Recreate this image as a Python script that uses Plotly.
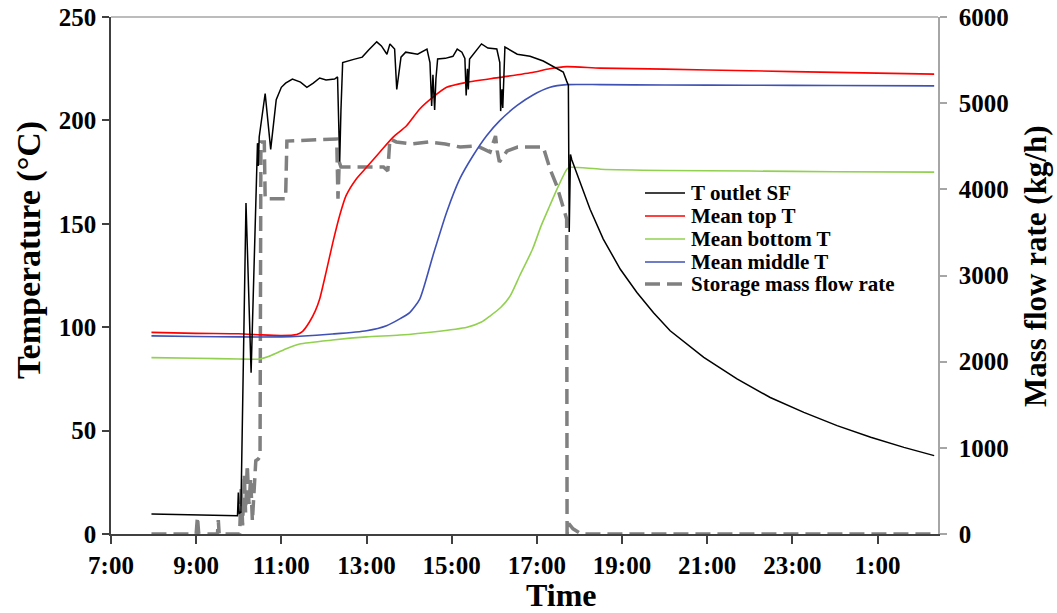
import pandas as pd
import plotly.graph_objects as go

# ---------------- data (hours since 0:00 of day 1; >24 = next day) ----------------
outlet_h = [7.95, 8.5, 9.0, 9.5, 9.97, 9.99, 10.01, 10.05, 10.17, 10.29, 10.44, 10.46, 10.48,
            10.62, 10.75, 10.88, 11.0, 11.1, 11.26, 11.45, 11.6, 11.75, 11.9, 12.05, 12.25,
            12.32, 12.35, 12.37, 12.40, 12.44, 12.7, 12.9, 13.05, 13.24, 13.35, 13.48, 13.55,
            13.66, 13.71, 13.81, 13.92, 14.2, 14.42, 14.49, 14.53, 14.56, 14.6, 14.63, 14.67,
            14.85, 15.03, 15.13, 15.24, 15.31, 15.34, 15.37, 15.39, 15.42, 15.7, 15.85, 16.06,
            16.13, 16.15, 16.18, 16.2, 16.25, 16.54, 16.84, 17.15, 17.38, 17.62, 17.70, 17.74,
            17.76, 17.79, 17.82, 18.02, 18.25, 18.56, 18.96, 19.35, 19.74, 20.13, 20.92, 21.7,
            22.48, 23.27, 24.05, 24.84, 25.62, 26.33]
outlet_T = [9.7, 9.4, 9.0, 8.8, 8.8, 20, 10, 10.5, 160, 78, 189, 178, 192,
            213, 186, 210, 216, 218, 220, 218.5, 216, 218, 220.5, 219.5, 220,
            221, 200, 180, 205, 228, 229.5, 230.6, 234, 238, 236, 232, 237,
            234.5, 215, 230.6, 233, 232, 234.5, 228, 207, 222, 205, 220, 229.7,
            230, 231, 234.5, 233, 230, 212, 225, 215, 229.7, 237, 235, 234.5,
            228, 204.5, 215, 206, 235.5, 232, 231, 228.7, 226.3, 223.4, 219, 217,
            146, 183.5, 181, 170, 157, 142.6, 128, 116.8, 107, 98.3, 85.4, 75,
            66, 58.8, 52.4, 46.8, 41.9, 37.9]

top_h = [7.95, 9.0, 10.0, 10.5, 11.0, 11.36, 11.5, 11.66, 11.8, 11.9, 12.05, 12.21, 12.37,
         12.52, 12.76, 13.0, 13.31, 13.62, 13.94, 14.25, 14.56, 14.88, 15.35, 16.13, 16.92,
         17.3, 17.70, 18.49, 20.0, 22.0, 24.0, 26.33]
top_T = [97.5, 97.0, 96.8, 96.3, 96.0, 96.5, 98, 102.5, 108, 113.6, 126.5, 141, 154,
         163.6, 171.7, 177.3, 184.6, 191.8, 197.4, 205.5, 211.2, 216, 218.4, 220.8, 223.3,
         225, 226, 225.3, 224.8, 224, 223.2, 222.4]

mid_h = [7.95, 9.0, 10.0, 11.0, 11.43, 12.2, 13.0, 13.47, 13.78, 14.02, 14.25, 14.56, 14.88,
         15.19, 15.5, 15.82, 16.13, 16.53, 16.92, 17.31, 17.70, 18.49, 20.0, 22.0, 24.0, 26.33]
mid_T = [95.8, 95.5, 95.3, 95.3, 95.6, 96.7, 98.3, 100.7, 104, 107.2, 113.6, 134.6, 155.5,
         171.7, 182.9, 192.6, 199.9, 207.1, 212.4, 216, 217.3, 217.3, 217.1, 217.0, 216.9, 216.7]

bot_h = [7.95, 9.0, 10.0, 10.49, 10.7, 10.89, 11.1, 11.43, 12.2, 13.0, 13.78, 14.56, 15.36,
         15.7, 15.9, 16.15, 16.37, 16.6, 16.9, 17.1, 17.3, 17.5, 17.71, 17.78, 18.5, 20.0,
         22.0, 24.0, 26.33]
bot_T = [85.3, 85.0, 84.6, 84.6, 85.8, 87.5, 89.5, 91.9, 93.8, 95.3, 96.2, 97.7, 100,
         102.5, 105.4, 109.5, 115, 125, 137.8, 149, 158.6, 168, 176.5, 177.3, 176.4, 175.8,
         175.5, 175.2, 175.0]

flow_h = [7.95, 9.0, 9.03, 9.06, 9.5, 9.52, 9.54, 10.02, 10.06, 10.09, 10.13, 10.16, 10.2,
          10.24, 10.28, 10.32, 10.36, 10.4, 10.46, 10.5, 10.52, 10.6, 10.62, 10.98, 11.1,
          11.13, 12.3, 12.33, 12.36, 12.4, 13.4, 13.5, 13.55, 13.7, 14.07, 14.45, 14.85,
          15.2, 15.6, 15.9, 16.03, 16.07, 16.12, 16.3, 16.55, 17.15, 17.25, 17.31, 17.47,
          17.54, 17.70, 17.71, 17.75, 17.85, 18.05, 26.33]
flow_F = [0, 0, 200, 0, 0, 160, 0, 0, 550, 100, 700, 250, 800,
          350, 650, 150, 500, 850, 870, 900, 4550, 4550, 3890, 3890, 3890,
          4560, 4584, 3890, 4317, 4259, 4259, 4213, 4584, 4550, 4526, 4549, 4526,
          4491, 4503, 4433, 4619, 4445, 4317, 4445, 4491, 4491, 4317, 4236, 4039,
          3923, 3656, 0, 120, 60, 0, 0]

series_names = ["T outlet SF", "Mean top T", "Mean bottom T", "Mean middle T",
                "Storage mass flow rate"]

x_ticks_start_h = 7.0
x_range_h = [7.0, 26.42]
temp_range = [0, 250]
flow_range = [0, 6000]

# ---------------- helpers ----------------
day0 = pd.Timestamp("2020-06-01")


def to_time(hours):
    return [day0 + pd.Timedelta(hours=h) for h in hours]


FONT = "Liberation Serif"
C_BLACK = "#000000"
C_RED = "#ff0000"
C_GREEN = "#92d050"
C_BLUE = "#3f51b5"
C_GRAY = "#808080"
DASH = "15px,7px"

fig = go.Figure()

# flow on the base axis (drawn underneath), temperatures on the overlay axis
fig.add_trace(go.Scatter(x=to_time(flow_h), y=flow_F, name=series_names[4], mode="lines",
                         line=dict(color=C_GRAY, width=3.5, dash=DASH), yaxis="y"))
fig.add_trace(go.Scatter(x=to_time(top_h), y=top_T, name=series_names[1], mode="lines",
                         line=dict(color=C_RED, width=1.6, shape="spline", smoothing=0.6),
                         yaxis="y2"))
fig.add_trace(go.Scatter(x=to_time(bot_h), y=bot_T, name=series_names[2], mode="lines",
                         line=dict(color=C_GREEN, width=1.6, shape="spline", smoothing=0.6),
                         yaxis="y2"))
fig.add_trace(go.Scatter(x=to_time(mid_h), y=mid_T, name=series_names[3], mode="lines",
                         line=dict(color=C_BLUE, width=1.6, shape="spline", smoothing=0.6),
                         yaxis="y2"))
fig.add_trace(go.Scatter(x=to_time(outlet_h), y=outlet_T, name=series_names[0], mode="lines",
                         line=dict(color=C_BLACK, width=1.5), yaxis="y2"))

tickfont = dict(family=FONT, size=25, color="black", weight="bold")

fig.update_layout(
    width=1057, height=613,
    margin=dict(l=111, r=119, t=17, b=79, autoexpand=False),
    paper_bgcolor="white", plot_bgcolor="white",
    showlegend=False,
    xaxis=dict(type="date", range=to_time(x_range_h), tick0=to_time([x_ticks_start_h])[0],
               dtick=2 * 3600 * 1000, tickformat="%-H:%M", ticks="outside", ticklen=8,
               tickwidth=1.5, tickcolor="#404040", showline=True, linecolor="#404040",
               linewidth=1.5, showgrid=False, zeroline=False, tickfont=tickfont,
               automargin=False, ticklabeloverflow="allow"),
    yaxis=dict(side="right", range=flow_range, dtick=1000, ticks="outside", ticklen=7,
               tickwidth=1.5, tickcolor="#a6a6a6", showline=True, linecolor="#a6a6a6",
               linewidth=1.5, showgrid=False, zeroline=False, tickfont=tickfont,
               ticklabelstandoff=7, automargin=False, ticklabeloverflow="allow"),
    yaxis2=dict(overlaying="y", side="left", range=temp_range, dtick=50, ticks="outside",
                ticklen=7, tickwidth=1.5, tickcolor="#404040", showline=True,
                linecolor="#404040", linewidth=1.5, showgrid=False, zeroline=False,
                tickfont=tickfont, ticklabelstandoff=1, automargin=False,
                ticklabeloverflow="allow"),
)

# top frame line
fig.add_shape(type="line", xref="paper", yref="paper", x0=0, x1=1, y0=1, y1=1,
              line=dict(color="#a6a6a6", width=1.5))

# reference-pixel -> paper conversion (plot area spans x 111..938, y 17..534)
PW, PH, L, T0 = 827.0, 517.0, 111.0, 17.0


def px(xp):
    return (xp - L) / PW


def py(yp):
    return (T0 + PH - yp) / PH


fig.add_annotation(text="Temperature (°C)", xref="paper", yref="paper", x=px(29), y=py(250),
                   xanchor="center", yanchor="middle", textangle=-90, showarrow=False,
                   font=dict(family=FONT, size=34, color="black", weight="bold"))
fig.add_annotation(text="Mass flow rate (kg/h)", xref="paper", yref="paper", x=px(1035),
                   y=py(266), xanchor="center", yanchor="middle", textangle=-90,
                   showarrow=False,
                   font=dict(family=FONT, size=31, color="black", weight="bold"))
fig.add_annotation(text="Time", xref="paper", yref="paper", x=px(561), y=py(595),
                   xanchor="center", yanchor="middle", showarrow=False,
                   font=dict(family=FONT, size=32, color="black", weight="bold"))

# manual legend (compact row spacing as in the original)
legend_rows_y = [193, 216, 239, 262, 284]
legend_styles = [dict(color=C_BLACK, width=1.5), dict(color=C_RED, width=1.5),
                 dict(color=C_GREEN, width=1.5), dict(color=C_BLUE, width=1.5),
                 dict(color=C_GRAY, width=3.5, dash=DASH)]
for name, ry, st in zip(series_names, legend_rows_y, legend_styles):
    fig.add_shape(type="line", xref="paper", yref="paper", x0=px(645), x1=px(685),
                  y0=py(ry), y1=py(ry), line=st)
    fig.add_annotation(text=name, xref="paper", yref="paper", x=px(689), y=py(ry),
                       xanchor="left", yanchor="middle", showarrow=False,
                       font=dict(family=FONT, size=21, color="black", weight="bold"))

# remove the browser's default 8px page margin so the figure fills the window exactly
fig.write_html("out.html", config={"displayModeBar": False},
               post_script="document.body.style.margin='0';document.body.style.overflow='hidden';")
